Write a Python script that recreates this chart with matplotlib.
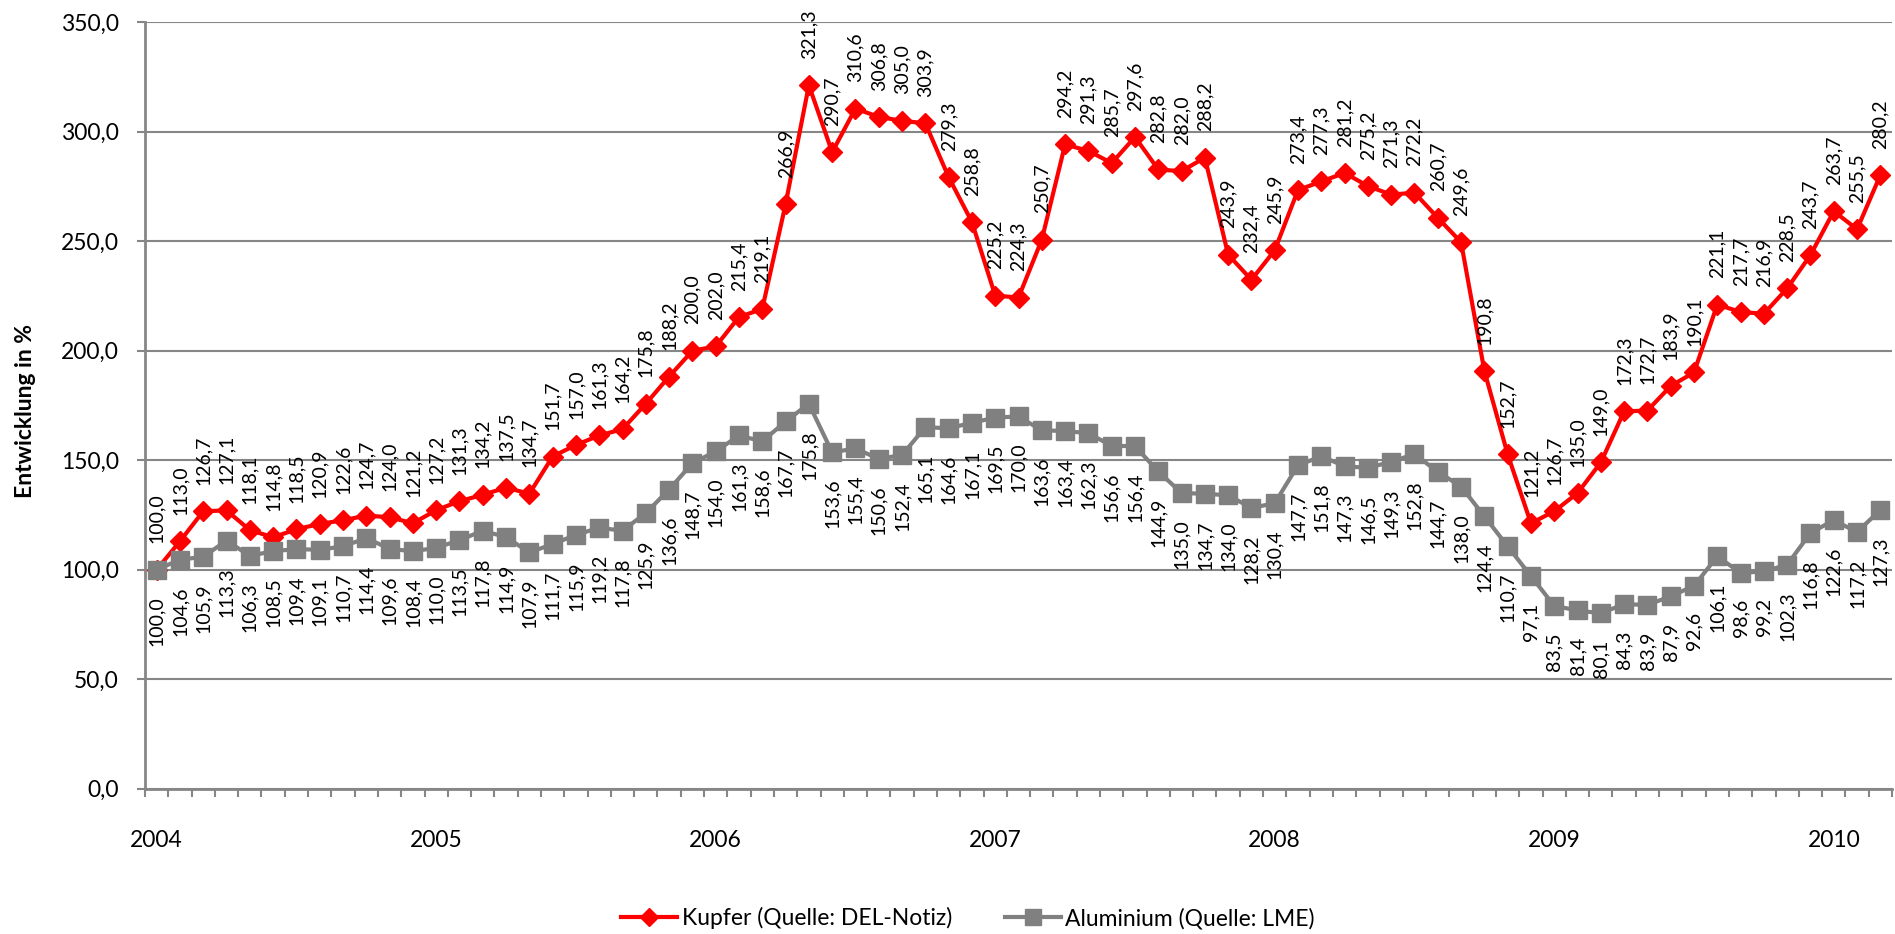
import matplotlib
matplotlib.use("Agg")
import matplotlib.pyplot as plt
from matplotlib.ticker import FixedLocator, FuncFormatter

plt.rcParams['font.family'] = ['Lato', 'DejaVu Sans']

years = ["2004", "2005", "2006", "2007", "2008", "2009", "2010"]

kupfer = [
    100.0, 113.0, 126.7, 127.1, 118.1, 114.8, 118.5, 120.9, 122.6, 124.7, 124.0, 121.2,
    127.2, 131.3, 134.2, 137.5, 134.7, 151.7, 157.0, 161.3, 164.2, 175.8, 188.2, 200.0,
    202.0, 215.4, 219.1, 266.9, 321.3, 290.7, 310.6, 306.8, 305.0, 303.9, 279.3, 258.8,
    225.2, 224.3, 250.7, 294.2, 291.3, 285.7, 297.6, 282.8, 282.0, 288.2, 243.9, 232.4,
    245.9, 273.4, 277.3, 281.2, 275.2, 271.3, 272.2, 260.7, 249.6, 190.8, 152.7, 121.2,
    126.7, 135.0, 149.0, 172.3, 172.7, 183.9, 190.1, 221.1, 217.7, 216.9, 228.5, 243.7,
    263.7, 255.5, 280.2,
]

aluminium = [
    100.0, 104.6, 105.9, 113.3, 106.3, 108.5, 109.4, 109.1, 110.7, 114.4, 109.6, 108.4,
    110.0, 113.5, 117.8, 114.9, 107.9, 111.7, 115.9, 119.2, 117.8, 125.9, 136.6, 148.7,
    154.0, 161.3, 158.6, 167.7, 175.8, 153.6, 155.4, 150.6, 152.4, 165.1, 164.6, 167.1,
    169.5, 170.0, 163.6, 163.4, 162.3, 156.6, 156.4, 144.9, 135.0, 134.7, 134.0, 128.2,
    130.4, 147.7, 151.8, 147.3, 146.5, 149.3, 152.8, 144.7, 138.0, 124.4, 110.7, 97.1,
    83.5, 81.4, 80.1, 84.3, 83.9, 87.9, 92.6, 106.1, 98.6, 99.2, 102.3, 116.8,
    122.6, 117.2, 127.3,
]

label_kupfer = "Kupfer (Quelle: DEL-Notiz)"
label_alu = "Aluminium (Quelle: LME)"
ylabel = "Entwicklung in %"

RED = "#FF0000"
GRAY = "#808080"
GRID = "#868686"


def de(v):
    return f"{v:.1f}".replace(".", ",")


W, H = 1895, 934
fig = plt.figure(figsize=(W / 100, H / 100), dpi=100)
left, right, top, bottom = 145, 1892, 22.3, 788.7
ax = fig.add_axes([left / W, 1 - bottom / H, (right - left) / W, (bottom - top) / H])

x = list(range(len(kupfer)))

ax.plot(x, kupfer, color=RED, lw=3, marker='D', ms=10, mfc=RED, mec=RED, mew=1,
        label=label_kupfer, zorder=3)
ax.plot(x, aluminium, color=GRAY, lw=3, marker='s', ms=13.5, mfc=GRAY, mec=GRAY, mew=1,
        label=label_alu, zorder=4)

for xi, v in zip(x, kupfer):
    ax.annotate(de(v), (xi, v), xytext=(0, 19), textcoords='offset points',
                rotation=90, ha='center', va='bottom', fontsize=14, color='black',
                zorder=6, annotation_clip=False)
for xi, v in zip(x, aluminium):
    ax.annotate(de(v), (xi, v), xytext=(0, -19), textcoords='offset points',
                rotation=90, ha='center', va='top', fontsize=14, color='black',
                zorder=6, annotation_clip=False)

ax.set_xlim(-0.5, len(kupfer) - 0.5)
ax.set_ylim(0, 350)

ax.yaxis.set_major_locator(FixedLocator([0, 50, 100, 150, 200, 250, 300, 350]))
ax.yaxis.set_major_formatter(FuncFormatter(lambda v, p: de(v)))
ax.tick_params(axis='y', direction='out', length=6, width=1.5, color=GRID,
               labelsize=16.5, pad=13)

year_pos = [12 * i for i in range(len(years))]
ax.set_xticks(year_pos)
ax.set_xticklabels(years)
ax.set_xticks([k - 0.5 for k in range(len(kupfer) + 1)], minor=True)
ax.tick_params(axis='x', which='major', length=0, labelsize=16.5, pad=30)
ax.tick_params(axis='x', which='minor', direction='out', length=6, width=1.5, color=GRID)

ax.grid(axis='y', color=GRID, lw=1.5, zorder=0)
ax.set_axisbelow(True)
for s in ['top', 'right']:
    ax.spines[s].set_visible(False)
for s in ['left', 'bottom']:
    ax.spines[s].set_color(GRID)
    ax.spines[s].set_linewidth(2)

fig.text(26 / W, 1 - 411 / H, ylabel, rotation=90, ha='center', va='center',
         fontsize=16.5, fontweight='bold')

fig.legend(loc='center', bbox_to_anchor=(968 / W, 1 - 918 / H), ncol=2, frameon=False,
           fontsize=16.5, handlelength=2.45, handletextpad=0.2, columnspacing=2.3,
           markerscale=0.9)

fig.savefig("out.png", dpi=100)
